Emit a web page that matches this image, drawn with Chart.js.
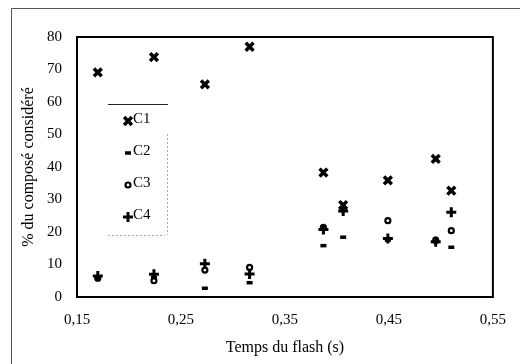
<!DOCTYPE html>
<html>
<head>
<meta charset="utf-8">
<script src="https://cdn.jsdelivr.net/npm/chart.js"></script>
<style>
  body { margin: 0; background: #fff; }
  #wrap { width: 520px; height: 364px; position: relative; }
</style>
</head>
<body>
<div id="wrap"><canvas id="flashChart"></canvas></div>
<script>
// flash duration (s) and share of each compound (%)
const temps = [0.170, 0.224, 0.273, 0.316, 0.387, 0.406, 0.449, 0.495, 0.510];
const c1 = [69.1, 73.8, 65.4, 77.0, 38.3, 28.3, 35.9, 42.5, 32.7];
const c2 = [6.0, 6.0, 2.7, 4.4, 15.8, 18.4, 17.5, 17.0, 15.3];
const c3 = [5.8, 5.0, 8.3, 9.1, 21.4, 27.0, 23.5, 17.5, 20.4];
const c4 = [6.5, 7.0, 10.2, 7.1, 20.8, 26.5, 18.0, 17.0, 26.1];

const seriesNames = ['C1', 'C2', 'C3', 'C4'];
const xTicks = [0.15, 0.25, 0.35, 0.45, 0.55];
const yTicks = [0, 10, 20, 30, 40, 50, 60, 70, 80];

const markers = [
  { pointStyle: 'crossRot', radius: 5.5, borderWidth: 3.5 },
  { pointStyle: 'line', radius: 3, borderWidth: 3.5 },
  { pointStyle: 'circle', radius: 2.5, borderWidth: 2.2 },
  { pointStyle: 'cross', radius: 5, borderWidth: 3 }
];

const serif = "'Liberation Serif', 'Times New Roman', serif";

function toPoints(ys) {
  return temps.map((t, i) => ({ x: t, y: ys[i] }));
}

const datasets = [c1, c2, c3, c4].map((ys, i) => ({
  label: seriesNames[i],
  data: toPoints(ys),
  pointStyle: markers[i].pointStyle,
  pointRadius: markers[i].radius,
  pointHoverRadius: markers[i].radius,
  pointBorderWidth: markers[i].borderWidth,
  borderColor: '#000',
  backgroundColor: 'rgba(0,0,0,0)'
}));

function drawMarker(ctx, m, x, y) {
  ctx.save();
  ctx.strokeStyle = '#000';
  ctx.fillStyle = 'rgba(0,0,0,0)';
  ctx.lineWidth = m.borderWidth;
  if (Chart.helpers && Chart.helpers.drawPoint) {
    Chart.helpers.drawPoint(ctx, { pointStyle: m.pointStyle, radius: m.radius, borderWidth: m.borderWidth, rotation: 0 }, x, y);
  }
  ctx.restore();
}

// frame around the figure, box around the plot, legend inside the plot
const framePlugin = {
  id: 'frames',
  beforeDraw(chart) {
    const ctx = chart.ctx;
    ctx.save();
    ctx.strokeStyle = '#555';
    ctx.lineWidth = 1;
    ctx.beginPath();
    ctx.moveTo(11.5, chart.height);
    ctx.lineTo(11.5, 8.5);
    ctx.lineTo(chart.width, 8.5);
    ctx.stroke();
    ctx.restore();
  },
  afterDraw(chart) {
    const ctx = chart.ctx;
    const a = chart.chartArea;
    ctx.save();
    ctx.strokeStyle = '#000';
    ctx.lineWidth = 2;
    ctx.strokeRect(a.left, a.top, a.right - a.left, a.bottom - a.top);

    // legend box
    const lx = 108, ly = 104, lw = 60, lh = 131;
    ctx.lineWidth = 1;
    ctx.strokeStyle = '#222';
    ctx.beginPath();
    ctx.moveTo(lx, ly + 0.5);
    ctx.lineTo(lx + lw, ly + 0.5);
    ctx.stroke();
    ctx.strokeStyle = '#aaa';
    ctx.setLineDash([2, 2]);
    ctx.beginPath();
    ctx.moveTo(lx, ly + lh + 0.5);
    ctx.lineTo(lx + lw - 3, ly + lh + 0.5);
    ctx.moveTo(lx + lw - 0.5, ly + 30);
    ctx.lineTo(lx + lw - 0.5, ly + lh);
    ctx.stroke();
    ctx.setLineDash([]);

    ctx.fillStyle = '#000';
    ctx.font = '15px ' + serif;
    ctx.textBaseline = 'middle';
    ctx.textAlign = 'left';
    seriesNames.forEach((name, i) => {
      const ty = 119 + i * 32;
      drawMarker(ctx, markers[i], 128, ty + 2);
      ctx.fillStyle = '#000';
      ctx.fillText(name, 133, ty);
    });
    ctx.restore();
  }
};

new Chart(document.getElementById('flashChart'), {
  type: 'scatter',
  data: { datasets },
  options: {
    responsive: true,
    maintainAspectRatio: false,
    animation: false,
    layout: { padding: { top: 37, right: 20, left: 0, bottom: 0 } },
    plugins: {
      legend: { display: false },
      tooltip: { enabled: false }
    },
    scales: {
      x: {
        type: 'linear',
        min: 0.15,
        max: 0.55,
        afterBuildTicks: s => { s.ticks = xTicks.map(v => ({ value: v })); },
        afterFit: s => { s.height = 67; },
        grid: { display: false, drawTicks: false },
        border: { display: false },
        ticks: {
          color: '#000',
          font: { family: serif, size: 15 },
          padding: 14,
          maxRotation: 0,
          callback: v => v.toFixed(2).replace('.', ',')
        },
        title: {
          display: true,
          text: 'Temps du flash (s)',
          color: '#000',
          font: { family: serif, size: 16 },
          padding: { top: 0, bottom: 7 }
        }
      },
      y: {
        min: 0,
        max: 80,
        afterBuildTicks: s => { s.ticks = yTicks.map(v => ({ value: v })); },
        afterFit: s => { s.width = 77; },
        grid: { display: false, drawTicks: false },
        border: { display: false },
        ticks: {
          color: '#000',
          font: { family: serif, size: 15 },
          padding: 15
        },
        title: {
          display: true,
          text: '% du composé considéré',
          color: '#000',
          font: { family: serif, size: 16 },
          padding: { top: 19, bottom: 0 }
        }
      }
    }
  },
  plugins: [framePlugin]
});
</script>
</body>
</html>
